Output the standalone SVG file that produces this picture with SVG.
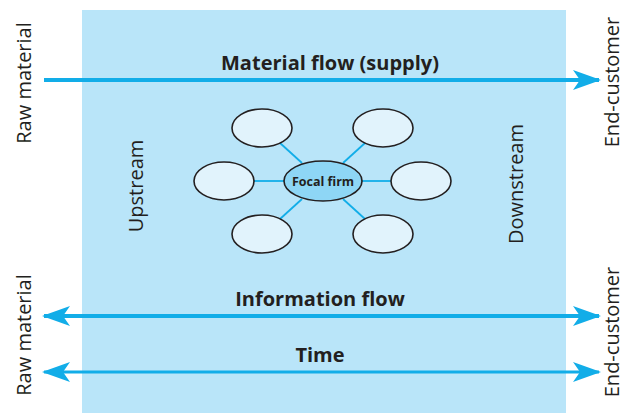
<svg xmlns="http://www.w3.org/2000/svg" width="624" height="413" viewBox="0 0 624 413">
  <style>
    .lbl { font-family: "Open Sans", "Liberation Sans", sans-serif; fill: #231f20; }
    .side { font-size: 20px; }
    .title { font-size: 20px; font-weight: bold; }
    .flow { stroke: #12ade8; fill: none; }
    .sat { fill: #e1f3fc; stroke: #231f20; stroke-width: 1.6; }
    .focal { fill: #8ed6f5; stroke: #231f20; stroke-width: 1.6; }
    .link { stroke: #12ade8; stroke-width: 1.8; }
  </style>
  <defs>
    <marker id="head" viewBox="0 0 28 20" refX="26" refY="10" markerWidth="28" markerHeight="20" markerUnits="userSpaceOnUse" orient="auto-start-reverse">
      <path d="M0,0 L28,10 L0,20 L7,10 Z" fill="#12ade8"/>
    </marker>
  </defs>

  <!-- supply chain band -->
  <rect x="82" y="10" width="484" height="403" fill="#b9e5f9"/>

  <!-- side labels -->
  <text class="lbl side" transform="translate(31,83) rotate(-90)" text-anchor="middle">Raw material</text>
  <text class="lbl side" transform="translate(31,335) rotate(-90)" text-anchor="middle">Raw material</text>
  <text class="lbl side" transform="translate(619,82) rotate(-90)" text-anchor="middle">End-customer</text>
  <text class="lbl side" transform="translate(619,332) rotate(-90)" text-anchor="middle">End-customer</text>
  <text class="lbl side" transform="translate(143,186) rotate(-90)" text-anchor="middle">Upstream</text>
  <text class="lbl side" transform="translate(523,184) rotate(-90)" text-anchor="middle">Downstream</text>

  <!-- flow titles -->
  <text class="lbl title" x="330" y="70" text-anchor="middle">Material flow (supply)</text>
  <text class="lbl title" x="320" y="306" text-anchor="middle">Information flow</text>
  <text class="lbl title" x="320" y="362" text-anchor="middle">Time</text>

  <!-- connectors -->
  <g id="connectors">
    <line class="flow" x1="44" y1="80" x2="599" y2="80" stroke-width="4" marker-end="url(#head)"/>
    <line class="flow" x1="44" y1="316" x2="599" y2="316" stroke-width="4" marker-start="url(#head)" marker-end="url(#head)"/>
    <line class="flow" x1="44" y1="372" x2="599" y2="372" stroke-width="3" marker-start="url(#head)" marker-end="url(#head)"/>
    <line class="link" x1="280" y1="143" x2="302" y2="163"/>
    <line class="link" x1="365" y1="143" x2="343" y2="163"/>
    <line class="link" x1="254" y1="181" x2="284" y2="181"/>
    <line class="link" x1="362" y1="181" x2="391" y2="181"/>
    <line class="link" x1="280" y1="219" x2="302" y2="199"/>
    <line class="link" x1="365" y1="219" x2="343" y2="199"/>
  </g>

  <!-- network nodes -->
  <g id="supplier-tier2"><ellipse class="sat" cx="262" cy="128" rx="30" ry="19"/></g>
  <g id="customer-tier2"><ellipse class="sat" cx="383" cy="128" rx="30" ry="19"/></g>
  <g id="supplier-tier1"><ellipse class="sat" cx="224" cy="181" rx="30" ry="19"/></g>
  <g id="customer-tier1"><ellipse class="sat" cx="421" cy="181" rx="30" ry="19"/></g>
  <g id="supplier-tier3"><ellipse class="sat" cx="262" cy="234" rx="30" ry="19"/></g>
  <g id="customer-tier3"><ellipse class="sat" cx="383" cy="234" rx="30" ry="19"/></g>
  <g id="focal-firm">
    <ellipse class="focal" cx="323" cy="181" rx="39" ry="20"/>
    <text class="lbl" x="323" y="185.5" text-anchor="middle" font-size="12.5" font-weight="bold">Focal firm</text>
  </g>
</svg>
